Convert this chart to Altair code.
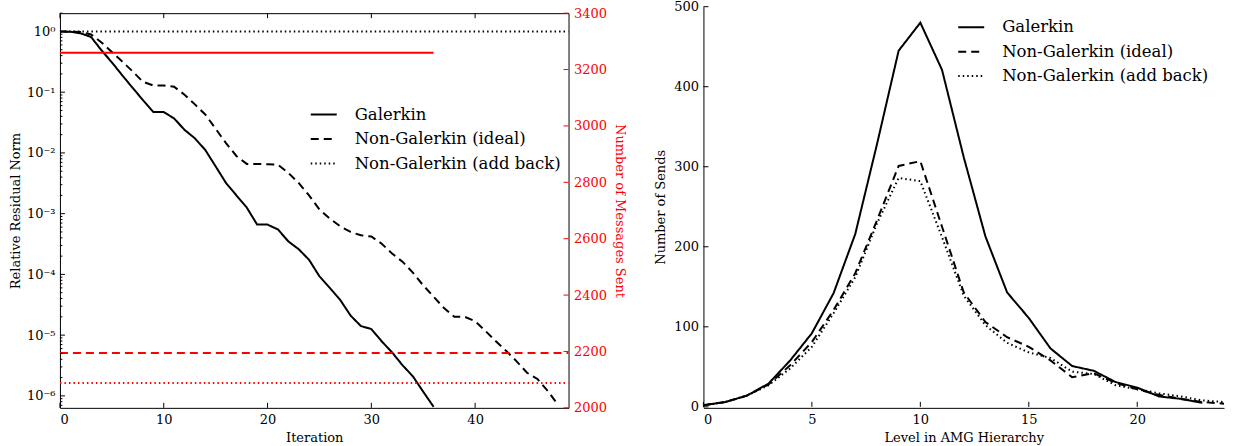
import altair as alt
import pandas as pd

FONT = "DejaVu Serif"
RED = "#ff0000"

# ---------------- convergence history (left panel) ----------------
methods = ["Galerkin", "Non-Galerkin (ideal)", "Non-Galerkin (add back)"]

galerkin_iter = list(range(37))
galerkin_resid = [1.0, 0.99, 0.93, 0.81, 0.49, 0.31, 0.19, 0.118, 0.074, 0.047,
                  0.047, 0.037, 0.024, 0.0174, 0.0112, 0.006, 0.0032, 0.002, 0.00126, 6.6e-4,
                  6.6e-4, 5.5e-4, 3.5e-4, 2.6e-4, 1.74e-4, 9.3e-5, 6.0e-5, 3.8e-5, 2.1e-5, 1.41e-5,
                  1.26e-5, 7.9e-6, 5.2e-6, 3.2e-6, 2.1e-6, 1.17e-6, 6.6e-7]

ideal_iter = list(range(49))
ideal_resid = [1.0, 0.99, 0.98, 0.89, 0.66, 0.46, 0.32, 0.22, 0.148, 0.129,
               0.129, 0.123, 0.091, 0.063, 0.043, 0.025, 0.0145, 0.0089, 0.0066, 0.0066,
               0.0065, 0.0064, 0.0047, 0.0032, 0.002, 0.00117, 8.3e-4, 6.2e-4, 5.0e-4, 4.4e-4,
               4.2e-4, 3.2e-4, 2.2e-4, 1.62e-4, 1.07e-4, 6.6e-5, 4.3e-5, 2.8e-5, 2.0e-5, 2.0e-5,
               1.7e-5, 1.17e-5, 7.9e-6, 5.5e-6, 3.7e-6, 2.4e-6, 1.9e-6, 1.2e-6, 7.1e-7]

addback_iter = [0, 49]
addback_resid = [1.0, 1.0]

# messages sent per iteration, drawn against the right-hand axis
msg_galerkin = 3260
msg_ideal = 2195
msg_addback = 2088
msg_iter_galerkin = [0, 36]
msg_iter_ideal = [0, 49]
msg_iter_addback = [0, 49]

# ---------------- sends per AMG level (right panel) ----------------
levels_galerkin = list(range(24))
sends_galerkin = [2, 6, 14, 29, 58, 92, 142, 216, 328, 445, 480, 421, 312, 213, 143, 111,
                  73, 51, 45, 31, 24, 13, 10, 5]
levels_ng = list(range(25))
sends_ideal = [2, 6, 14, 28, 52, 81, 121, 167, 233, 301, 307, 225, 143, 106, 87, 75,
               58, 37, 42, 30, 22, 15, 10, 6, 4]
sends_addback = [2, 6, 14, 27, 48, 75, 117, 162, 229, 286, 282, 212, 139, 102, 80, 68,
                 61, 44, 41, 27, 22, 17, 13, 8, 6]

# ---------------- tick positions ----------------
iter_ticks = [0, 10, 20, 30, 40]
resid_ticks = [1, 0.1, 0.01, 1e-3, 1e-4, 1e-5, 1e-6]
msg_ticks = [2000, 2200, 2400, 2600, 2800, 3000, 3200, 3400]
level_ticks = [0, 5, 10, 15, 20]
send_ticks = [0, 100, 200, 300, 400, 500]

RESID_DOMAIN = [6.35e-7, 2.0]
resid_minor = [k * 10.0 ** e for e in range(-7, 1) for k in range(2, 10)
               if RESID_DOMAIN[0] <= k * 10.0 ** e <= RESID_DOMAIN[1]]

W1, H1 = 509, 395
W2, H2 = 521, 395
RIGHT_TOP = -6.5  # the sends axis rises a little above the left frame

dash_range = [[1, 0], [8, 5], [1.5, 3]]


def method_legend(x, y):
    return alt.Legend(title=None, orient="none", legendX=x, legendY=y,
                      symbolType="stroke", symbolSize=676, symbolStrokeWidth=2,
                      symbolStrokeColor="black", labelFont=FONT, labelFontSize=16.5,
                      labelColor="black", labelOffset=17, rowPadding=1.5, padding=0,
                      labelLimit=400)


# ---------------- left panel ----------------
conv = pd.concat([
    pd.DataFrame({"iteration": galerkin_iter, "resid": galerkin_resid, "method": methods[0]}),
    pd.DataFrame({"iteration": ideal_iter, "resid": ideal_resid, "method": methods[1]}),
    pd.DataFrame({"iteration": addback_iter, "resid": addback_resid, "method": methods[2]}),
])

x_iter = alt.Scale(domain=[0, 49], nice=False, zero=False)
y_resid = alt.Scale(type="log", domain=RESID_DOMAIN, nice=False)
y_msg = alt.Scale(domain=[2000, 3400], nice=False, zero=False)

conv_lines = alt.Chart(conv).mark_line(strokeWidth=2, color="black", clip=True).encode(
    x=alt.X("iteration:Q", scale=x_iter,
            axis=alt.Axis(values=iter_ticks, title="Iteration", ticks=False, domain=False,
                          grid=False, labelPadding=6, titlePadding=5)),
    y=alt.Y("resid:Q", scale=y_resid,
            axis=alt.Axis(values=resid_ticks, title="Relative Residual Norm", ticks=False,
                          domain=False, grid=False, labelPadding=5, titlePadding=4,
                          labelExpr="['10⁰','10⁻¹','10⁻²','10⁻³','10⁻⁴','10⁻⁵','10⁻⁶']"
                                    "[round(-log(datum.value)/LN10)]")),
    strokeDash=alt.StrokeDash("method:N", sort=methods,
                              scale=alt.Scale(domain=methods, range=dash_range),
                              legend=method_legend(250, 87.5)),
)


def msg_line(iters, value, dash, with_axis):
    df = pd.DataFrame({"iteration": iters, "messages": [value] * len(iters)})
    if with_axis:
        axis = alt.Axis(orient="right", values=msg_ticks, format="d",
                        title="Number of Messages Sent",
                        labelColor=RED, titleColor=RED, ticks=False, domain=False,
                        grid=False, labelPadding=5, titlePadding=6)
        y = alt.Y("messages:Q", scale=y_msg, axis=axis)
    else:
        y = alt.Y("messages:Q", scale=y_msg, axis=None)
    return alt.Chart(df).mark_line(strokeWidth=2, color=RED, clip=True).encode(
        x=alt.X("iteration:Q", scale=x_iter), y=y, strokeDash=alt.value(dash))


red_galerkin = msg_line(msg_iter_galerkin, msg_galerkin, [1, 0], True)
red_ideal = msg_line(msg_iter_ideal, msg_ideal, [8, 5], False)
red_addback = msg_line(msg_iter_addback, msg_addback, [1.5, 3], False)

# inward tick marks
major_l = alt.Chart(pd.DataFrame({"v": resid_ticks})).mark_rule(color="black").encode(
    y=alt.Y("v:Q", scale=y_resid, axis=None), x=alt.value(0), x2=alt.value(5))
minor_l = alt.Chart(pd.DataFrame({"v": resid_minor})).mark_rule(color="black").encode(
    y=alt.Y("v:Q", scale=y_resid, axis=None), x=alt.value(0), x2=alt.value(2.5))
red_ticks = alt.Chart(pd.DataFrame({"v": msg_ticks})).mark_rule(color=RED).encode(
    y=alt.Y("v:Q", scale=y_msg, axis=None), x=alt.value(W1 - 5), x2=alt.value(W1))
bottom_ticks = alt.Chart(pd.DataFrame({"v": iter_ticks})).mark_rule(color="black").encode(
    x=alt.X("v:Q", scale=x_iter), y=alt.value(H1), y2=alt.value(H1 - 5))
top_ticks = alt.Chart(pd.DataFrame({"v": iter_ticks})).mark_rule(color="black").encode(
    x=alt.X("v:Q", scale=x_iter), y=alt.value(0), y2=alt.value(5))

left = alt.layer(
    conv_lines, red_galerkin, red_ideal, red_addback,
    major_l, minor_l, red_ticks, bottom_ticks, top_ticks,
).resolve_scale(y="independent").properties(
    width=W1, height=H1,
    view=alt.ViewBackground(stroke="black", strokeWidth=1),
)

# ---------------- right panel ----------------
sends = pd.concat([
    pd.DataFrame({"level": levels_galerkin, "sends": sends_galerkin, "method": methods[0]}),
    pd.DataFrame({"level": levels_ng, "sends": sends_ideal, "method": methods[1]}),
    pd.DataFrame({"level": levels_ng, "sends": sends_addback, "method": methods[2]}),
])

x_level = alt.Scale(domain=[0, 24], nice=False, zero=False)
y_sends = alt.Scale(domain=[0, 500], nice=False, range=[H2 - 1, RIGHT_TOP])

send_lines = alt.Chart(sends).mark_line(strokeWidth=2, color="black", clip=False).encode(
    x=alt.X("level:Q", scale=x_level,
            axis=alt.Axis(values=level_ticks, title="Level in AMG Hierarchy", ticks=False,
                          domainColor="black", domainWidth=1, grid=False,
                          labelPadding=6, titlePadding=5)),
    y=alt.Y("sends:Q", scale=y_sends,
            axis=alt.Axis(values=send_ticks, title="Number of Sends", ticks=False,
                          domainColor="black", domainWidth=1, grid=False,
                          labelPadding=5, titlePadding=6)),
    strokeDash=alt.StrokeDash("method:N", sort=methods,
                              scale=alt.Scale(domain=methods, range=dash_range),
                              legend=method_legend(254, 0)),
)
level_tick_marks = alt.Chart(pd.DataFrame({"v": level_ticks})).mark_rule(color="black").encode(
    x=alt.X("v:Q", scale=x_level), y=alt.value(H2 - 1), y2=alt.value(H2 - 6))
send_tick_marks = alt.Chart(pd.DataFrame({"v": send_ticks})).mark_rule(color="black").encode(
    y=alt.Y("v:Q", scale=y_sends), x=alt.value(0), x2=alt.value(5))

right = alt.layer(send_lines, level_tick_marks, send_tick_marks).properties(
    width=W2, height=H2,
    view=alt.ViewBackground(stroke="transparent"),
)

chart = alt.hconcat(left, right, spacing=27).resolve_scale(
    x="independent", y="independent", strokeDash="independent"
).resolve_legend(strokeDash="independent").properties(
    padding={"left": 8, "top": 0, "right": 4, "bottom": 0},
    background="white",
).configure_axis(
    labelFont=FONT, titleFont=FONT, labelFontSize=13, titleFontSize=13,
    titleFontWeight="normal", labelColor="black", titleColor="black",
).configure_view(stroke="transparent")

chart.save("out.html", embed_options={"renderer": "svg", "actions": False})
